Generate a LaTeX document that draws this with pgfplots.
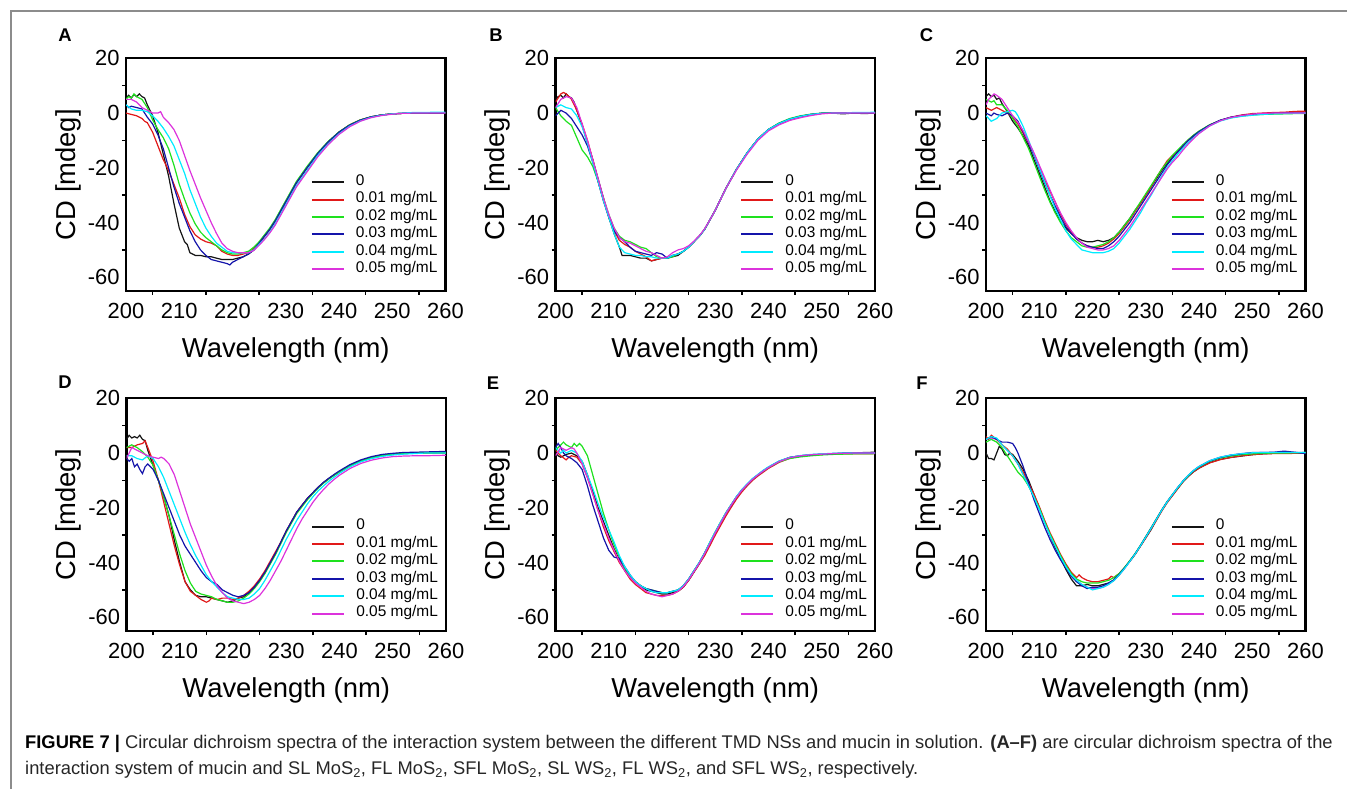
\documentclass[border=0pt]{standalone}
\usepackage{fontspec}
\setmainfont{Liberation Sans}
\usepackage{pgfplots}
\pgfplotsset{compat=1.18}
\definecolor{cblack}{RGB}{20,20,20}
\definecolor{cred}{RGB}{225,25,25}
\definecolor{cgreen}{RGB}{30,225,30}
\definecolor{cblue}{RGB}{20,20,170}
\definecolor{ccyan}{RGB}{0,235,255}
\definecolor{cmag}{RGB}{220,50,220}
\definecolor{framegray}{RGB}{140,140,140}
\newcommand\cdleg{\addlegendimage{cblack}\addlegendimage{cred}\addlegendimage{cgreen}\addlegendimage{cblue}\addlegendimage{ccyan}\addlegendimage{cmag}}
\pgfplotsset{
 cdaxis/.style={
  scale only axis, width=319.5bp, height=232.7bp,
  xmin=200, xmax=260, ymin=-65, ymax=20,
  xtick={200,210,...,260}, ytick={-60,-40,...,20},
  minor x tick num=1, minor y tick num=1,
  tick pos=left, tick align=outside,
  major tick length=0bp, minor tick length=4bp,
  axis line style={line width=2.2bp},
  tick style={line width=1.5bp, black},
  tick label style={font=\fontsize{22}{26}\selectfont},
  /pgf/number format/assume math mode=true,
  xticklabel style={yshift=-9bp},
  yticklabel style={xshift=-3bp},
  label style={font=\fontsize{27.5}{32}\selectfont},
  xlabel={Wavelength (nm)}, ylabel={CD [mdeg]},
  xlabel style={at={(axis description cs:0.5,-0.2535)}, anchor=center},
  ylabel style={at={(axis description cs:-0.1815,0.5)}, anchor=center},
  legend entries={0,0.01 mg/mL,0.02 mg/mL,0.03 mg/mL,0.04 mg/mL,0.05 mg/mL},
  legend cell align=left,
  legend image code/.code={\draw[#1,line width=2bp] (0bp,0bp) -- (32bp,0bp);},
  legend style={draw=none, fill=none, inner sep=0pt, anchor=north west,
    font=\fontsize{15.5}{17}\selectfont, row sep=0pt,
    nodes={inner ysep=0pt, text height=12bp, text depth=5.4bp},
    /tikz/every odd column/.append style={column sep=9bp}},
  every axis plot/.append style={line width=1.2bp},
 },
 row1/.style={legend style={at={(rel axis cs:0.578,0.506)}}},
 row2/.style={legend style={at={(rel axis cs:0.578,0.487)}}},
}
\begin{document}
\begin{tikzpicture}
\useasboundingbox (0bp,0bp) rectangle (1347bp,-789bp);
\draw[framegray, line width=1.5bp] (11bp,-789bp) -- (11bp,-11bp) -- (1347bp,-11bp);
\begin{scope}[every node/.style={font=\bfseries\fontsize{18.5}{20}\selectfont}]
\node at (65bp,-35bp) {A};
\node at (496bp,-35bp) {B};
\node at (926.5bp,-35bp) {C};
\node at (65bp,-382bp) {D};
\node at (493bp,-383bp) {E};
\node at (922bp,-383bp) {F};
\end{scope}

% ---------------- A ----------------
\begin{axis}[cdaxis, row1, at={(126bp,-58.3bp)}, anchor=north west]
\cdleg
\addplot[cblack,forget plot] coordinates {(200,5.5)(200.5,6.5)(201,5.5)(201.5,6.8)(202,6)(202.5,7)(203,6)(203.5,5.5)(204,3)(205,-1)(206,-7)(207,-15)(208,-23)(209,-33)(210,-42)(211,-47)(211.5,-48)(212,-51)(213,-52)(214,-52)(215,-52.5)(216,-52.5)(217,-53)(218,-53.5)(219,-53.5)(220,-53.5)(221,-53)(222,-52.5)(223,-51.5)(224,-50)(225,-47.5)(226,-45)(227,-42.5)(228,-39.5)(229,-36)(230,-32.5)(232,-25.5)(234,-20)(236,-14.8)(238,-10.5)(240,-7)(242,-4.4)(244,-2.6)(246,-1.4)(248,-0.7)(250,-0.3)(252,-0.1)(254,0)(256,0)(258,0)(260,0)};
\addplot[cred,forget plot] coordinates {(200,0)(201,-0.5)(202,-1)(203,-2)(203.5,-3)(204,-3.5)(205,-7)(206,-12)(207,-17)(208,-21)(209,-26)(210,-31)(211,-37)(212,-41.5)(213,-44.5)(214,-46)(215,-47)(216,-47.5)(217,-48.5)(218,-50.5)(219,-51.5)(220,-52)(221,-52)(222,-51.5)(223,-51)(224,-49.5)(225,-47.5)(226,-45)(227,-42.5)(228,-39.5)(229,-36)(230,-32.5)(232,-25.5)(234,-20)(236,-14.8)(238,-10.5)(240,-7)(242,-4.3)(244,-2.5)(246,-1.4)(248,-0.7)(250,-0.3)(252,-0.1)(254,0)(256,0)(258,0)(260,0)};
\addplot[cgreen,forget plot] coordinates {(200,5)(200.5,6)(201,5.5)(201.5,7)(202,6)(203,5)(204,2)(205,-2.5)(206,-6)(207,-9)(208,-13)(209,-19)(210,-26)(211,-31.5)(212,-36.5)(213,-40.5)(214,-43.5)(215,-45.5)(216,-47)(217,-48.5)(218,-50)(219,-51)(220,-51.5)(221,-51.5)(222,-51)(223,-50.5)(224,-49)(225,-47)(226,-44.5)(227,-42)(228,-39)(229,-35.5)(230,-32)(232,-25)(234,-19.5)(236,-14.5)(238,-10.3)(240,-6.9)(242,-4.3)(244,-2.5)(246,-1.4)(248,-0.7)(250,-0.3)(252,-0.1)(254,0)(256,0)(258,0)(260,0)};
\addplot[cblue,forget plot] coordinates {(200,3)(200.5,2)(201,2.5)(202,2)(203,1.5)(204,-1.5)(205,-4)(206,-8)(207,-13)(208,-20)(209,-27)(210,-33)(211,-38)(212,-43)(213,-47)(214,-50)(215,-52)(216,-53.5)(217,-54)(218,-54.5)(219,-55)(219.5,-55.5)(220,-54.5)(221,-53.5)(222,-52.5)(223,-51.5)(224,-50)(225,-47.5)(226,-45)(227,-42.5)(228,-39.5)(229,-36)(230,-32.5)(232,-25.5)(234,-20)(236,-14.8)(238,-10.5)(240,-7)(242,-4.4)(244,-2.6)(246,-1.4)(248,-0.7)(250,-0.3)(252,-0.1)(254,0)(256,0)(258,0)(260,0)};
\addplot[ccyan,forget plot] coordinates {(200,3)(201,1.5)(202,1)(203,1)(204,0.5)(205,-1)(206,-3)(207,-5.5)(208,-8.5)(209,-12)(210,-17)(211,-22)(212,-28)(213,-33)(214,-38)(215,-42)(216,-45)(217,-47.5)(218,-49)(219,-50.5)(220,-51)(221,-51)(222,-51)(223,-51)(224,-50)(225,-48)(226,-46)(227,-43.5)(228,-40.5)(229,-37)(230,-33.5)(232,-26.5)(234,-21)(236,-15.5)(238,-11.2)(240,-7.6)(242,-4.8)(244,-2.9)(246,-1.6)(248,-0.8)(250,-0.3)(252,0)(254,0.2)(256,0.2)(258,0.3)(260,0.3)};
\addplot[cmag,forget plot] coordinates {(200,5)(201,5)(202,4)(203,2)(204,1)(205,0)(206,0)(206.5,0.5)(207,-1.5)(208,-3.5)(209,-6)(210,-10)(211,-15.5)(212,-21)(213,-26)(214,-31)(215,-35.5)(216,-40)(217,-44)(218,-47.5)(219,-49.5)(220,-50.5)(221,-51)(222,-51)(223,-51)(224,-50.2)(225,-48.3)(226,-46.2)(227,-43.8)(228,-41)(229,-37.5)(230,-34)(232,-27)(234,-21.5)(236,-16)(238,-11.5)(240,-7.8)(242,-5)(244,-3)(246,-1.7)(248,-0.9)(250,-0.4)(252,-0.1)(254,0)(256,0)(258,0)(260,0)};
\end{axis}

% ---------------- B ----------------
\begin{axis}[cdaxis, row1, at={(555.5bp,-58.3bp)}, anchor=north west]
\cdleg
\addplot[cblack,forget plot] coordinates {(200,5)(200.5,6)(201,6.5)(201.5,5.5)(202,7)(202.5,6)(203,5.5)(203.5,4)(204,1)(205,-4.5)(206,-11)(207,-17)(208,-24)(209,-31)(210,-38)(211,-44)(212,-49)(212.5,-52)(213,-52)(214,-52)(215,-52.5)(216,-53)(217,-53)(218,-54)(219,-53.5)(220,-53)(221,-53)(222,-52.5)(223,-52)(224,-50.5)(225,-49)(226,-47)(227,-45)(228,-42.5)(229,-39)(230,-35.5)(232,-27.5)(234,-20.5)(236,-14.5)(238,-9.5)(240,-6)(242,-3.8)(244,-2.2)(246,-1.2)(248,-0.5)(250,-0.1)(252,0)(254,-0.3)(256,0)(258,-0.2)(260,0)};
\addplot[cred,forget plot] coordinates {(200,4)(201,7)(201.5,7.5)(202,7)(203,5)(204,1)(205,-4)(206,-10)(207,-17)(208,-25)(209,-32)(210,-38)(211,-43)(212,-46.5)(213,-48)(214,-49)(215,-50.5)(216,-51.5)(217,-52.5)(218,-54)(219,-53.5)(220,-53)(221,-53)(222,-52)(223,-51.5)(224,-50.5)(225,-49)(226,-47)(227,-45)(228,-42.5)(229,-39)(230,-35.5)(232,-27.5)(234,-20.5)(236,-14.5)(238,-9.5)(240,-6)(242,-3.8)(244,-2.2)(246,-1.2)(248,-0.5)(250,-0.1)(252,0)(254,0)(256,0)(258,0)(260,0)};
\addplot[cgreen,forget plot] coordinates {(200,2)(201,-1)(202,-3)(203,-4.5)(204,-9)(205,-13.5)(206,-16)(207,-19.5)(208,-25)(209,-31)(210,-37)(211,-42)(212,-45)(213,-46.5)(214,-47)(215,-48)(216,-49)(217,-49.5)(218,-51)(219,-52.5)(220,-53)(221,-53)(222,-52.5)(223,-51.5)(224,-50.5)(225,-49)(226,-47)(227,-45)(228,-42.5)(229,-39)(230,-35.5)(232,-27.5)(234,-20.5)(236,-14.5)(238,-9.5)(240,-6)(242,-3.6)(244,-2)(246,-1)(248,-0.4)(250,0)(252,0)(254,0)(256,0)(258,0)(260,0)};
\addplot[cblue,forget plot] coordinates {(200,-1)(201,1)(202,0)(203,-2)(204,-5)(205,-8)(206,-12)(207,-18)(208,-25)(209,-32)(210,-38)(211,-43)(212,-45.5)(213,-47)(214,-49)(215,-50.5)(216,-51)(217,-51.5)(218,-52)(219,-51)(220,-51.5)(221,-53)(222,-52)(223,-51.5)(224,-50.5)(225,-49)(226,-47)(227,-45)(228,-42.5)(229,-39)(230,-35.5)(232,-27.5)(234,-20.5)(236,-14.5)(238,-9.5)(240,-6)(242,-3.8)(244,-2.2)(246,-1.2)(248,-0.5)(250,-0.1)(252,0)(254,0)(256,0)(258,0)(260,0)};
\addplot[ccyan,forget plot] coordinates {(200,2)(201,3)(202,2)(203,1.5)(204,-1)(205,-5)(206,-11)(207,-18)(208,-25)(209,-32)(210,-38)(211,-44)(212,-49)(213,-51)(214,-51.5)(215,-52)(216,-52)(217,-52.5)(218,-52.5)(219,-53)(220,-53)(221,-53)(222,-52)(223,-51.5)(224,-50.5)(225,-49)(226,-47)(227,-45)(228,-42.5)(229,-39)(230,-35.5)(232,-27.5)(234,-20.5)(236,-14.5)(238,-9.5)(240,-6)(242,-3.8)(244,-2.2)(246,-1.2)(248,-0.5)(250,-0.1)(252,0)(254,0)(256,0.2)(258,0.2)(260,0.3)};
\addplot[cmag,forget plot] coordinates {(200,2)(201,5)(202,6)(203,5.5)(204,2)(205,-4)(206,-10)(207,-17)(208,-24)(209,-31)(210,-37)(211,-42)(212,-45.5)(213,-47)(214,-47.5)(215,-48.5)(216,-49.5)(217,-50.5)(218,-51)(219,-52)(220,-53)(221,-52.5)(222,-51)(223,-50)(224,-49.5)(225,-48.5)(226,-46.8)(227,-44.8)(228,-42.3)(229,-39)(230,-35.5)(232,-27.5)(234,-20.8)(236,-15)(238,-10)(240,-6.5)(242,-4.3)(244,-2.7)(246,-1.7)(248,-0.9)(250,-0.3)(252,0)(254,0)(256,0)(258,0)(260,0)};
\end{axis}

% ---------------- C ----------------
\begin{axis}[cdaxis, row1, at={(986bp,-58.3bp)}, anchor=north west]
\cdleg
\addplot[cblack,forget plot] coordinates {(200,6)(200.5,7)(201,6)(201.5,6.5)(202,5)(202.5,5.5)(203,3.5)(204,0.5)(205,-3)(206,-5.5)(207,-8.5)(208,-12)(209,-17)(210,-22)(211,-27)(212,-32)(213,-36)(214,-39.5)(215,-42)(216,-44)(217,-45.5)(218,-46.5)(219,-47)(220,-47)(221,-46.5)(222,-47)(223,-46.5)(224,-45.5)(225,-43.5)(226,-41)(227,-38.5)(228,-35.5)(229,-33)(230,-30)(231,-27)(232,-24)(233,-21)(234,-18.5)(235,-16)(236,-14)(237,-12)(238,-10)(239,-8.3)(240,-6.8)(242,-4.4)(244,-2.7)(246,-1.6)(248,-0.9)(250,-0.5)(252,-0.2)(254,0)(256,0)(258,0)(260,0)};
\addplot[cred,forget plot] coordinates {(200,2)(201,1)(202,2)(203,1)(204,0)(205,-1.5)(206,-4)(207,-7.5)(208,-11)(209,-15)(210,-19.5)(211,-24.5)(212,-28.5)(213,-32.5)(214,-37)(215,-40.5)(216,-43.5)(217,-46)(218,-47.5)(219,-48.5)(220,-49)(221,-49)(222,-48.5)(223,-47.5)(224,-46)(225,-44)(226,-41.5)(227,-39)(228,-36)(229,-33)(230,-30)(231,-27)(232,-23.5)(233,-20.5)(234,-17.5)(235,-15.5)(236,-14.5)(237,-12)(238,-9.8)(239,-8.2)(240,-6.8)(242,-4.4)(244,-2.7)(246,-1.5)(248,-0.7)(250,-0.2)(252,0)(254,0.2)(256,0.3)(258,0.6)(260,0.7)};
\addplot[cgreen,forget plot] coordinates {(200,5)(201,4)(201.5,4.5)(202,3)(203,3)(204,1)(205,-2)(206,-5)(207,-9)(208,-13)(209,-18)(210,-23)(211,-28)(212,-32.5)(213,-36.5)(214,-40)(215,-43)(216,-45.5)(217,-47)(218,-48.5)(219,-49)(220,-49)(221,-48.5)(222,-48)(223,-47)(224,-45.5)(225,-43.5)(226,-41)(227,-38.5)(228,-35.5)(229,-32.5)(230,-29.5)(231,-26.5)(232,-23.5)(233,-20.5)(234,-18)(235,-15.5)(236,-13.5)(237,-11.5)(238,-9.7)(239,-8)(240,-6.6)(242,-4.3)(244,-2.7)(246,-1.7)(248,-1.1)(250,-0.7)(252,-0.5)(254,-0.4)(256,-0.3)(258,-0.2)(260,-0.2)};
\addplot[cblue,forget plot] coordinates {(200,0)(201,-1)(201.5,0)(202,-0.5)(203,-1)(204,0)(205,-1)(206,-3)(207,-7)(208,-11)(209,-15.5)(210,-20.5)(211,-25.5)(212,-30)(213,-34)(214,-38)(215,-41.5)(216,-44)(217,-46)(218,-47.5)(219,-48.5)(220,-49)(221,-49.5)(222,-49.5)(223,-48.5)(224,-47)(225,-45)(226,-42.5)(227,-40)(228,-37)(229,-34)(230,-31)(231,-28)(232,-25)(233,-22)(234,-19)(235,-16.5)(236,-14.2)(237,-12)(238,-10)(239,-8.3)(240,-6.8)(242,-4.4)(244,-2.6)(246,-1.5)(248,-0.9)(250,-0.5)(252,-0.3)(254,-0.1)(256,0)(258,0)(260,0)};
\addplot[ccyan,forget plot] coordinates {(200,-1)(200.5,-2)(201,-3)(201.5,-2.5)(202,-2)(203,0)(204,0.5)(205,1)(205.5,0.5)(206,-1)(207,-5)(208,-10)(209,-15)(210,-20)(211,-25)(212,-30)(213,-35)(214,-39)(215,-43)(216,-46)(217,-48)(218,-50)(219,-50.5)(220,-51)(221,-51)(222,-51)(223,-50.5)(224,-49.5)(225,-47.5)(226,-45)(227,-42.5)(228,-39.5)(229,-36.5)(230,-33)(231,-30)(232,-26.5)(233,-23)(234,-20)(235,-17.5)(236,-15)(237,-12.8)(238,-10.8)(239,-9)(240,-7.3)(242,-4.7)(244,-2.9)(246,-1.8)(248,-1.2)(250,-0.8)(252,-0.5)(254,-0.3)(256,-0.2)(258,-0.1)(260,0)};
\addplot[cmag,forget plot] coordinates {(200,3)(200.5,5)(201,6)(201.5,7)(202,6.5)(203,5)(204,2)(205,-1)(206,-3.5)(207,-6.5)(208,-10.5)(209,-14.5)(210,-19)(211,-23.5)(212,-28)(213,-32.5)(214,-36.5)(215,-40)(216,-43)(217,-45.5)(218,-47.5)(219,-49)(220,-49.5)(221,-50)(222,-50)(223,-49.5)(224,-48.5)(225,-46.5)(226,-44)(227,-41.5)(228,-38.5)(229,-35.5)(230,-32.5)(231,-29.5)(232,-26.5)(233,-23.5)(234,-20.5)(235,-18)(236,-16)(237,-13.5)(238,-11.3)(239,-9.3)(240,-7.5)(242,-4.7)(244,-2.8)(246,-1.6)(248,-0.9)(250,-0.4)(252,-0.1)(254,0)(256,0)(258,0)(260,0)};
\end{axis}

% ---------------- D ----------------
\begin{axis}[cdaxis, row2, at={(126.5bp,-398.3bp)}, anchor=north west]
\cdleg
\addplot[cblack,forget plot] coordinates {(200,5)(200.5,6.5)(201,5.5)(201.5,6)(202,5.5)(202.5,6.5)(203,5)(203.5,4.5)(204,1)(205,-4.5)(206,-10)(207,-16)(208,-23)(209,-32)(210,-40)(211,-47)(212,-50)(213,-52)(214,-52.5)(215,-52.5)(216,-53)(217,-53.5)(218,-54)(219,-54.5)(220,-54)(221,-53)(222,-52.5)(223,-51)(224,-49)(225,-46.5)(226,-43.5)(227,-40)(228,-36.5)(229,-32.5)(230,-28.5)(231,-25)(232,-21.5)(233,-19)(234,-16.5)(235,-14.5)(236,-12.5)(237,-10.8)(238,-9.3)(239,-8)(240,-6.8)(242,-4.5)(244,-3)(246,-1.8)(248,-1)(250,-0.5)(252,-0.2)(254,0)(256,0)(258,0)(260,0)};
\addplot[cred,forget plot] coordinates {(200,2)(201,2)(202,3)(203,3.5)(203.5,4.5)(204,2)(205,-3)(206,-10)(207,-18)(208,-26)(209,-34)(210,-41)(211,-47)(212,-50.5)(213,-52)(214,-53.5)(215,-54.5)(215.5,-54)(216,-53)(217,-53.5)(218,-53)(219,-53)(220,-53.5)(221,-53)(222,-52)(223,-50.5)(224,-48.5)(225,-46)(226,-43)(227,-39.5)(228,-36)(229,-32.5)(230,-28.5)(231,-25)(232,-21.5)(233,-19)(234,-16.5)(235,-14.5)(236,-12.5)(237,-10.8)(238,-9.3)(239,-8)(240,-6.8)(242,-4.4)(244,-2.8)(246,-1.6)(248,-0.8)(250,-0.3)(252,0)(254,0)(256,0)(258,0)(260,0)};
\addplot[cgreen,forget plot] coordinates {(200,2)(201,3)(202,2)(203,0.5)(204,-1.5)(205,-4.5)(206,-10)(207,-16)(208,-23)(209,-30)(210,-37)(211,-43)(212,-47.5)(213,-50.5)(214,-51.5)(215,-52)(216,-52.5)(217,-53.5)(218,-54)(219,-54.5)(220,-54.5)(221,-54)(222,-53)(223,-51.5)(224,-49.5)(225,-47)(226,-44)(227,-40.5)(228,-37)(229,-33)(230,-29)(231,-25.5)(232,-22)(233,-19.5)(234,-17)(235,-14.8)(236,-12.8)(237,-11)(238,-9.5)(239,-8.1)(240,-6.8)(242,-4.5)(244,-2.9)(246,-1.7)(248,-0.9)(250,-0.4)(252,-0.1)(254,0)(256,0)(258,0)(260,0)};
\addplot[cblue,forget plot] coordinates {(200,-2)(200.5,-3)(201,-2)(201.5,-5)(202,-4)(202.5,-6)(203,-7.5)(203.5,-5)(204,-4)(205,-6)(206,-10)(207,-15)(208,-20)(209,-25)(210,-30)(211,-34)(212,-37)(213,-40)(214,-43)(215,-45.5)(216,-47)(217,-48)(218,-50)(219,-51)(220,-52)(221,-52.5)(222,-52)(223,-51)(224,-49)(225,-46.5)(226,-43.5)(227,-40)(228,-36.5)(229,-32.5)(230,-28.5)(231,-25)(232,-21.5)(233,-19)(234,-16.5)(235,-14.5)(236,-12.5)(237,-10.7)(238,-9.2)(239,-7.8)(240,-6.5)(242,-4.2)(244,-2.5)(246,-1.3)(248,-0.5)(250,-0.1)(252,0.2)(254,0.3)(256,0.4)(258,0.5)(260,0.6)};
\addplot[ccyan,forget plot] coordinates {(200,-1)(201,-1)(202,-2)(203,-2.5)(204,-1)(205,-2)(206,-5)(207,-9)(208,-14)(209,-19)(210,-24)(211,-29)(212,-33.5)(213,-37.5)(214,-41)(215,-44.5)(216,-47)(217,-49)(218,-51)(219,-52.5)(220,-53)(221,-53.5)(222,-53.5)(223,-53)(224,-51.5)(225,-49.5)(226,-46.5)(227,-43)(228,-39.5)(229,-35.5)(230,-31.5)(231,-28)(232,-24.5)(233,-21.5)(234,-18.5)(235,-16)(236,-13.8)(237,-12)(238,-10.3)(239,-8.8)(240,-7.4)(242,-5)(244,-3.2)(246,-2)(248,-1.2)(250,-0.7)(252,-0.4)(254,-0.2)(256,0)(258,0)(260,0)};
\addplot[cmag,forget plot] coordinates {(200,-2)(200.5,0)(201,2)(201.5,1.5)(202,1)(203,0)(204,-1)(205,-1.5)(206,-2)(206.5,-1.5)(207,-2)(208,-4)(209,-8)(210,-14)(211,-20)(212,-26)(213,-31)(214,-36)(215,-41)(216,-45)(217,-48.5)(218,-51)(219,-53)(220,-54)(221,-54.5)(222,-55)(223,-54.5)(224,-53.5)(225,-52)(226,-49.5)(227,-46.5)(228,-43)(229,-39.5)(230,-35.5)(231,-31.5)(232,-27.5)(233,-24)(234,-21)(235,-18)(236,-15.5)(237,-13.3)(238,-11.3)(239,-9.6)(240,-8.1)(242,-5.6)(244,-3.8)(246,-2.6)(248,-1.8)(250,-1.3)(252,-1.1)(254,-1)(256,-1)(258,-0.9)(260,-0.8)};
\end{axis}

% ---------------- E ----------------
\begin{axis}[cdaxis, row2, at={(555.5bp,-398.3bp)}, anchor=north west]
\cdleg
\addplot[cblack,forget plot] coordinates {(200,0)(200.5,-1)(201,-1.5)(202,-0.5)(203,0)(204,-1)(205,-3)(206,-8)(207,-14)(208,-20)(209,-25)(210,-30)(211,-35)(212,-39)(213,-42.5)(214,-45)(215,-47)(216,-48.5)(217,-50)(218,-50.5)(219,-51)(220,-51.5)(221,-51.5)(222,-51)(223,-50.5)(224,-49)(225,-46.5)(226,-43.5)(227,-40.5)(228,-37)(229,-33)(230,-29)(231,-25.5)(232,-22)(233,-19)(234,-16)(235,-13.5)(236,-11.5)(237,-9.5)(238,-8)(239,-6.5)(240,-5.2)(242,-3)(244,-1.6)(246,-1)(248,-0.7)(250,-0.5)(252,-0.3)(254,-0.1)(256,0)(258,0.2)(260,0.3)};
\addplot[cred,forget plot] coordinates {(200,1)(201,-1)(202,-2.5)(202.5,-1.5)(203,-1)(204,-1.5)(205,-4)(206,-9)(207,-15)(208,-21)(209,-27)(210,-32)(211,-36)(212,-40)(213,-43)(214,-46)(215,-48)(216,-49.5)(217,-51)(218,-51.5)(219,-52)(220,-52)(221,-52)(222,-51.5)(223,-50.5)(224,-49)(225,-46.5)(226,-43.5)(227,-40.5)(228,-37.5)(229,-33.8)(230,-30)(231,-26.5)(232,-23)(233,-19.8)(234,-16.8)(235,-14.2)(236,-12)(237,-10)(238,-8.4)(239,-7)(240,-5.6)(242,-3.4)(244,-1.9)(246,-1.1)(248,-0.7)(250,-0.5)(252,-0.4)(254,-0.3)(256,-0.3)(258,-0.3)(260,-0.2)};
\addplot[cgreen,forget plot] coordinates {(200,1)(201,3)(201.5,4)(202,3)(203,2)(203.5,3.5)(204,2.5)(204.5,3.5)(205,2.5)(206,-1)(207,-8)(208,-15)(209,-22)(210,-28)(211,-33.5)(212,-38)(213,-42)(214,-45)(215,-47)(216,-48.5)(217,-49.5)(218,-50)(219,-50.5)(220,-51)(221,-51)(222,-50.5)(223,-50)(224,-48.5)(225,-46)(226,-43)(227,-40)(228,-36.5)(229,-32.5)(230,-28.8)(231,-25.2)(232,-21.8)(233,-18.8)(234,-16)(235,-13.5)(236,-11.5)(237,-9.5)(238,-8)(239,-6.6)(240,-5.3)(242,-3.2)(244,-2)(246,-1.4)(248,-1)(250,-0.7)(252,-0.5)(254,-0.4)(256,-0.3)(258,-0.3)(260,-0.2)};
\addplot[cblue,forget plot] coordinates {(200,2)(200.5,3.5)(201,2)(201.5,0)(202,-1)(203,-2)(204,-3.5)(205,-6)(206,-12)(207,-19)(208,-25)(209,-31)(210,-35.5)(211,-38)(212,-38.5)(213,-41.5)(214,-44.5)(215,-47)(216,-48.5)(217,-49.5)(218,-50)(219,-50.5)(220,-51)(221,-51)(222,-50.5)(223,-50)(224,-48.5)(225,-46)(226,-43)(227,-40)(228,-36.5)(229,-32.8)(230,-29)(231,-25.5)(232,-22)(233,-19)(234,-16)(235,-13.5)(236,-11.5)(237,-9.5)(238,-8)(239,-6.5)(240,-5.2)(242,-3)(244,-1.6)(246,-1)(248,-0.6)(250,-0.4)(252,-0.2)(254,0)(256,0)(258,0)(260,0)};
\addplot[ccyan,forget plot] coordinates {(200,2)(201,0)(201.5,1)(202,0)(203,1)(204,0)(205,-3)(206,-8)(207,-13)(208,-18.5)(209,-23.5)(210,-28)(211,-32.5)(212,-37.5)(213,-41.5)(214,-44.5)(215,-47)(216,-48.5)(217,-49.5)(218,-50.5)(219,-51)(220,-51)(221,-51)(222,-50.5)(223,-50)(224,-48.5)(225,-46)(226,-43)(227,-40)(228,-36.5)(229,-32.5)(230,-28.8)(231,-25.2)(232,-21.8)(233,-18.8)(234,-15.8)(235,-13.3)(236,-11.2)(237,-9.3)(238,-7.8)(239,-6.3)(240,-5)(242,-2.9)(244,-1.6)(246,-0.9)(248,-0.5)(250,-0.3)(252,-0.1)(254,0)(256,0)(258,0)(260,0)};
\addplot[cmag,forget plot] coordinates {(200,-1)(201,2)(202,1)(203,2)(203.5,1.5)(204,0)(205,-4)(206,-9)(207,-15)(208,-21)(209,-26)(210,-31)(211,-35.5)(212,-39.5)(213,-43)(214,-45.5)(215,-47.5)(216,-49)(217,-50.5)(218,-51.5)(219,-52)(220,-52.5)(221,-52)(222,-51.5)(223,-50.5)(224,-48.8)(225,-46.3)(226,-43.3)(227,-40.3)(228,-36.8)(229,-33)(230,-29.2)(231,-25.6)(232,-22.1)(233,-19)(234,-16.1)(235,-13.6)(236,-11.5)(237,-9.6)(238,-8)(239,-6.6)(240,-5.3)(242,-3.1)(244,-1.7)(246,-1)(248,-0.6)(250,-0.4)(252,-0.2)(254,-0.1)(256,0)(258,0)(260,0)};
\end{axis}

% ---------------- F ----------------
\begin{axis}[cdaxis, row2, at={(986bp,-398.3bp)}, anchor=north west]
\cdleg
\addplot[cmag,forget plot] coordinates {(200,5)(201,5.5)(202,5)(203,3)(204,1)(205,-1)(206,-4)(207,-8)(208,-12)(209,-16)(210,-20.5)(211,-25.5)(212,-30)(213,-34)(214,-38)(215,-41.5)(216,-44.5)(217,-46.5)(218,-48)(219,-49)(220,-49.5)(221,-49.5)(222,-49)(223,-48)(224,-46.6)(225,-44.6)(226,-42.2)(227,-39.6)(228,-36.9)(229,-33.9)(230,-30.7)(231,-27.5)(232,-24.2)(233,-20.9)(234,-17.9)(235,-15.2)(236,-12.6)(237,-10.2)(238,-8.1)(239,-6.3)(240,-4.9)(242,-2.8)(244,-1.5)(246,-0.7)(248,-0.2)(250,0.1)(252,0.2)(254,0.2)(256,0.2)(258,0.2)(260,0.2)};
\addplot[cblack,forget plot] coordinates {(200,0)(200.5,-2)(201,-2)(201.5,-2.5)(202,0)(202.5,2.5)(203,1.5)(203.5,-0.5)(204,-1)(204.5,0)(205,-0.5)(206,-3)(207,-6)(208,-10)(209,-15)(210,-20)(211,-25)(212,-30)(213,-34.5)(214,-38.5)(215,-42.5)(216,-46)(217,-48.5)(218,-48.5)(219,-48)(220,-48.5)(221,-48.5)(222,-48)(223,-47.5)(224,-46.5)(225,-44.5)(226,-42)(227,-39.5)(228,-37)(229,-34)(230,-31)(231,-28)(232,-24.5)(233,-21)(234,-18)(235,-15.5)(236,-13)(237,-10.5)(238,-8.5)(239,-6.8)(240,-5.5)(242,-3.5)(244,-2.3)(246,-1.6)(248,-1.1)(250,-0.6)(252,-0.3)(254,-0.1)(256,0)(258,0)(260,0)};
\addplot[cred,forget plot] coordinates {(200,6)(200.5,5)(201,6.5)(202,5)(203,3)(204,1.5)(205,-1)(206,-4)(207,-7)(208,-11)(209,-15)(210,-19.5)(211,-24.5)(212,-29)(213,-33)(214,-37)(215,-40.5)(216,-43.5)(217,-45.5)(217.5,-44.5)(218,-45.5)(219,-46.5)(220,-47)(221,-47)(222,-46.5)(223,-46)(223.5,-45)(224,-45.5)(225,-44)(226,-42)(227,-39.5)(228,-37)(229,-34)(230,-31)(231,-27.8)(232,-24.5)(233,-21.2)(234,-18.2)(235,-15.6)(236,-13)(237,-10.5)(238,-8.5)(239,-6.8)(240,-5.5)(242,-3.6)(244,-2.4)(246,-1.6)(248,-1)(250,-0.6)(252,-0.3)(254,-0.2)(256,-0.2)(258,-0.1)(260,0)};
\addplot[cgreen,forget plot] coordinates {(200,4)(201,5)(202,4)(203,2)(204,-1)(205,-4)(206,-7)(207,-9)(208,-12)(209,-16)(210,-20)(211,-25)(212,-29.5)(213,-33.5)(214,-37.5)(215,-41)(216,-44)(217,-46)(218,-47)(219,-47.5)(220,-47.5)(221,-47.5)(222,-47)(223,-46.5)(224,-45.5)(225,-44)(226,-41.8)(227,-39.3)(228,-36.7)(229,-33.7)(230,-30.5)(231,-27.3)(232,-24)(233,-20.8)(234,-17.8)(235,-15.2)(236,-12.7)(237,-10.3)(238,-8.3)(239,-6.5)(240,-5.1)(242,-3)(244,-1.8)(246,-1.1)(248,-0.6)(250,-0.3)(252,-0.1)(254,0)(256,0)(258,0.1)(260,0.2)};
\addplot[cblue,forget plot] coordinates {(200,5)(201,6)(202,5)(203,4)(204,4)(205,3.5)(205.5,2)(206,0)(207,-5)(208,-11)(209,-17)(210,-22)(211,-27)(212,-31.5)(213,-35.5)(214,-39)(215,-42)(216,-45)(217,-47)(218,-48.5)(219,-49.5)(220,-49)(221,-49)(222,-48.5)(223,-47.5)(224,-46.3)(225,-44.3)(226,-42)(227,-39.5)(228,-36.8)(229,-33.8)(230,-30.6)(231,-27.4)(232,-24.1)(233,-20.8)(234,-17.8)(235,-15.2)(236,-12.6)(237,-10.2)(238,-8.2)(239,-6.4)(240,-5)(242,-2.9)(244,-1.6)(246,-0.8)(248,-0.3)(250,0.2)(252,0.2)(254,0.3)(256,0.7)(258,0.3)(260,-0.2)};
\addplot[ccyan,forget plot] coordinates {(200,5)(201,6)(202,5.5)(203,3)(204,1)(205,-1)(206,-4)(207,-8)(208,-12)(209,-16)(210,-20.5)(211,-25.5)(212,-30)(213,-34)(214,-38)(215,-41.5)(216,-44.5)(217,-46.5)(218,-48)(219,-49)(220,-50)(221,-49.5)(222,-49)(223,-48)(224,-46.6)(225,-44.6)(226,-42.2)(227,-39.6)(228,-36.9)(229,-33.9)(230,-30.7)(231,-27.5)(232,-24.2)(233,-20.9)(234,-17.9)(235,-15.2)(236,-12.6)(237,-10.2)(238,-8.1)(239,-6.3)(240,-4.9)(242,-2.8)(244,-1.5)(246,-0.7)(248,-0.2)(250,0.1)(252,0.2)(254,0.2)(256,0.2)(258,0.2)(260,0.2)};
\end{axis}

\node[anchor=base west, inner sep=0pt, font=\fontsize{18.4}{20}\selectfont, text=black!85] at (25bp,-748bp) {\textbf{\color{black}FIGURE 7 |} Circular dichroism spectra of the interaction system between the different TMD NSs and mucin in solution. \textbf{(A–F)} are circular dichroism spectra of the};
\node[anchor=base west, inner sep=0pt, font=\fontsize{18.4}{20}\selectfont, text=black!85] at (25bp,-774bp) {interaction system of mucin and SL MoS\textsubscript{2}, FL MoS\textsubscript{2}, SFL MoS\textsubscript{2}, SL WS\textsubscript{2}, FL WS\textsubscript{2}, and SFL WS\textsubscript{2}, respectively.};
\end{tikzpicture}
\end{document}
